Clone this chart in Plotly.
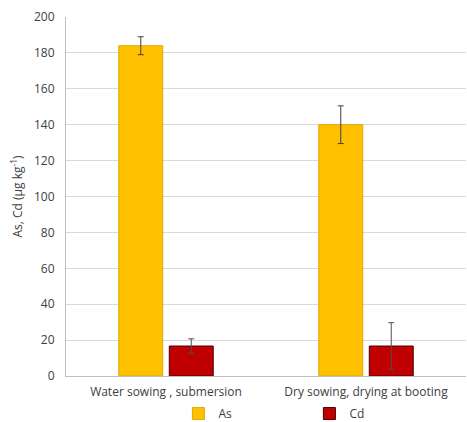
import plotly.graph_objects as go

categories = ["Water sowing , submersion", "Dry sowing, drying at booting"]
as_values = [184, 140]
as_err = [5, 10.5]
cd_values = [16.7, 16.7]
cd_err = [4, 13]
y_ticks = list(range(0, 201, 20))

font = "Open Sans"

fig = go.Figure()
fig.add_trace(go.Bar(
    x=categories, y=as_values, name="As",
    marker=dict(color="#FFC000", line=dict(color="#E0A800", width=1)),
    error_y=dict(type="data", array=as_err, color="#404040", thickness=1, width=3),
))
fig.add_trace(go.Bar(
    x=categories, y=cd_values, name="Cd",
    marker=dict(color="#C00000", line=dict(color="#4A0000", width=1)),
    error_y=dict(type="data", array=cd_err, color="#505050", thickness=1, width=3),
))

fig.update_layout(
    width=467, height=422,
    margin=dict(l=66, r=1, t=17, b=46, autoexpand=False),
    paper_bgcolor="white", plot_bgcolor="white",
    barmode="group", bargap=0.495, bargroupgap=0.13,
    font=dict(family=font, size=12, color="#404040"),
    showlegend=True,
    legend=dict(
        orientation="h", xref="container", x=0.382, xanchor="left",
        yref="container", y=0.02, yanchor="middle",
        entrywidth=86, entrywidthmode="pixels", itemwidth=30,
        bgcolor="rgba(0,0,0,0)",
        font=dict(size=12, color="#404040"),
    ),
    xaxis=dict(
        showline=True, linecolor="#BFBFBF", linewidth=1,
        ticks="", ticklabelstandoff=5,
        tickfont=dict(size=12, color="#404040"),
    ),
    yaxis=dict(
        range=[0, 200], tickvals=y_ticks, showgrid=True, gridcolor="#D9D9D9",
        gridwidth=1, showline=True, linecolor="#BFBFBF", linewidth=1,
        zeroline=False, ticks="", ticklabelstandoff=8,
        tickfont=dict(size=12, color="#404040"),
        title=dict(text="As, Cd (µg kg<sup>-1</sup>)", font=dict(size=12, color="#404040"), standoff=8),
    ),
)

# page body has an 8px default margin; drop it so the figure sits at 0,0
fig.write_html("out.html", config={"displayModeBar": False},
               post_script="document.body.style.margin='0px';")
